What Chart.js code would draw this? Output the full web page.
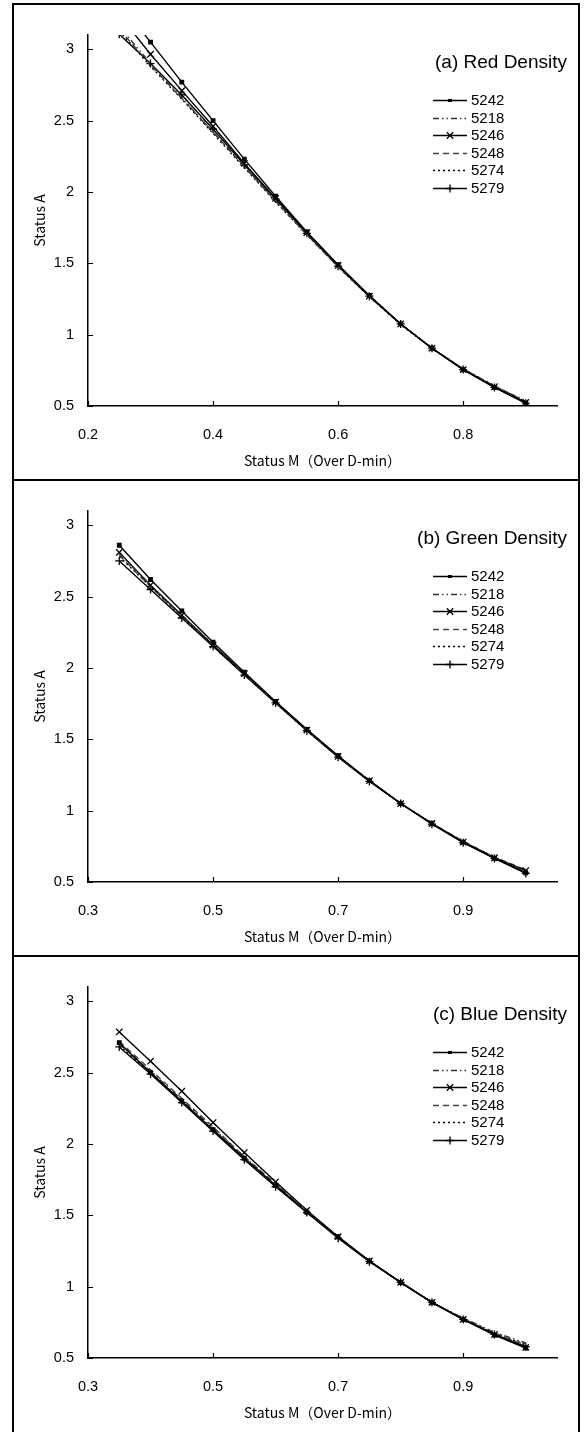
<!DOCTYPE html>
<html><head><meta charset="utf-8">
<style>
html,body{margin:0;padding:0;background:#fff;width:584px;height:1432px;overflow:hidden}
.panel{position:absolute;left:12px;width:568px;height:478px;border:2px solid #000;box-sizing:border-box;background:#fff}
.panel canvas{display:block}
</style>
<script src="https://cdn.jsdelivr.net/npm/chart.js"></script>
</head><body>
<div class="panel" style="top:3px"><canvas id="c0" width="564" height="474"></canvas></div>
<div class="panel" style="top:479px"><canvas id="c1" width="564" height="474"></canvas></div>
<div class="panel" style="top:955px;height:484px"><canvas id="c2" width="564" height="474"></canvas></div>
<script>
// ---------- data ----------
const seriesLabels = ['5242', '5218', '5246', '5248', '5274', '5279'];
const panelTitles = ['(a) Red Density', '(b) Green Density', '(c) Blue Density'];
const xTitle = 'Status M（Over D-min）';
const yTitle = 'Status A';

const xRed   = [0.25, 0.30, 0.35, 0.40, 0.45, 0.50, 0.55, 0.60, 0.65, 0.70, 0.75, 0.80, 0.85, 0.90];
const xGreen = [0.35, 0.40, 0.45, 0.50, 0.55, 0.60, 0.65, 0.70, 0.75, 0.80, 0.85, 0.90, 0.95, 1.00];
const xBlue  = [0.35, 0.40, 0.45, 0.50, 0.55, 0.60, 0.65, 0.70, 0.75, 0.80, 0.85, 0.90, 0.95, 1.00];

const red5242 = [3.33, 3.05, 2.77, 2.50, 2.23, 1.97, 1.72, 1.49, 1.275, 1.075, 0.905, 0.755, 0.63, 0.52];
const red5218 = [3.16, 2.90, 2.66, 2.42, 2.18, 1.94, 1.705, 1.48, 1.27, 1.075, 0.905, 0.76, 0.64, 0.535];
const red5246 = [3.24, 2.965, 2.71, 2.46, 2.20, 1.955, 1.715, 1.485, 1.27, 1.075, 0.905, 0.755, 0.635, 0.525];
const red5248 = [3.14, 2.89, 2.655, 2.42, 2.175, 1.935, 1.70, 1.475, 1.265, 1.075, 0.905, 0.76, 0.64, 0.53];
const red5274 = [3.13, 2.88, 2.65, 2.41, 2.17, 1.93, 1.70, 1.475, 1.265, 1.07, 0.905, 0.76, 0.64, 0.53];
const red5279 = [3.105, 2.90, 2.68, 2.44, 2.19, 1.95, 1.71, 1.48, 1.27, 1.075, 0.905, 0.755, 0.63, 0.52];

const green5242 = [2.86, 2.62, 2.40, 2.18, 1.97, 1.765, 1.57, 1.385, 1.21, 1.05, 0.91, 0.78, 0.665, 0.565];
const green5218 = [2.80, 2.58, 2.37, 2.165, 1.96, 1.76, 1.565, 1.38, 1.21, 1.05, 0.91, 0.785, 0.67, 0.575];
const green5246 = [2.81, 2.58, 2.37, 2.16, 1.96, 1.76, 1.565, 1.38, 1.21, 1.05, 0.91, 0.78, 0.67, 0.58];
const green5248 = [2.79, 2.57, 2.365, 2.16, 1.955, 1.76, 1.565, 1.38, 1.21, 1.05, 0.91, 0.785, 0.675, 0.585];
const green5274 = [2.78, 2.57, 2.36, 2.16, 1.955, 1.755, 1.56, 1.38, 1.21, 1.05, 0.91, 0.78, 0.67, 0.58];
const green5279 = [2.75, 2.55, 2.35, 2.15, 1.95, 1.755, 1.56, 1.375, 1.205, 1.05, 0.905, 0.775, 0.665, 0.56];

const blue5242 = [2.71, 2.50, 2.30, 2.10, 1.90, 1.71, 1.52, 1.35, 1.18, 1.03, 0.89, 0.77, 0.66, 0.57];
const blue5218 = [2.70, 2.51, 2.31, 2.11, 1.91, 1.72, 1.53, 1.35, 1.18, 1.03, 0.89, 0.78, 0.68, 0.605];
const blue5246 = [2.785, 2.58, 2.37, 2.15, 1.94, 1.735, 1.535, 1.35, 1.18, 1.03, 0.89, 0.77, 0.665, 0.575];
const blue5248 = [2.72, 2.52, 2.32, 2.12, 1.91, 1.72, 1.53, 1.35, 1.18, 1.03, 0.89, 0.775, 0.675, 0.59];
const blue5274 = [2.69, 2.50, 2.30, 2.10, 1.90, 1.71, 1.52, 1.345, 1.18, 1.03, 0.89, 0.775, 0.67, 0.595];
const blue5279 = [2.68, 2.49, 2.29, 2.09, 1.89, 1.70, 1.52, 1.34, 1.175, 1.03, 0.89, 0.77, 0.665, 0.58];

const xTicksRed = [0.2, 0.4, 0.6, 0.8];
const xTicksGreen = [0.3, 0.5, 0.7, 0.9];
const xTicksBlue = [0.3, 0.5, 0.7, 0.9];
const yTicks = [0.5, 1, 1.5, 2, 2.5, 3];

// ---------- styles ----------
const seriesStyles = [
  {color: '#000', dash: [], point: 'rect', r: 2.5},
  {color: '#333', dash: [6, 3, 1.5, 3, 1.5, 3], point: false, r: 0},
  {color: '#000', dash: [], point: 'crossRot', r: 4.5},
  {color: '#444', dash: [6, 4], point: false, r: 0},
  {color: '#000', dash: [2, 3], point: false, r: 0},
  {color: '#000', dash: [], point: 'cross', r: 4}
];

Chart.defaults.font.family = '"Liberation Sans", Arial, sans-serif';
Chart.defaults.color = '#000';

function drawMarker(ctx, style, r, x, y) {
  ctx.save();
  ctx.strokeStyle = '#000'; ctx.fillStyle = '#000'; ctx.lineWidth = 1.3; ctx.setLineDash([]);
  ctx.beginPath();
  if (style === 'rect') {
    ctx.fillRect(x - r * 0.8, y - r * 0.6, r * 1.6, r * 1.2);
  } else if (style === 'crossRot') {
    const d = r * Math.SQRT1_2;
    ctx.moveTo(x - d, y - d); ctx.lineTo(x + d, y + d);
    ctx.moveTo(x - d, y + d); ctx.lineTo(x + d, y - d);
    ctx.stroke();
  } else if (style === 'cross') {
    ctx.moveTo(x, y - r); ctx.lineTo(x, y + r);
    ctx.moveTo(x - r, y); ctx.lineTo(x + r, y);
    ctx.stroke();
  }
  ctx.restore();
}

const decorPlugin = {
  id: 'decor',
  afterDraw(chart, args, opts) {
    const ctx = chart.ctx;
    const a = chart.chartArea;
    const xs = chart.scales.x, ys = chart.scales.y;
    // inward tick marks
    ctx.save();
    ctx.strokeStyle = '#000'; ctx.lineWidth = 1.2;
    ctx.beginPath();
    xs.ticks.forEach(t => {
      const px = Math.round(xs.getPixelForValue(t.value)) + 0.5;
      ctx.moveTo(px, a.bottom); ctx.lineTo(px, a.bottom - 5);
    });
    ys.ticks.forEach(t => {
      const py = Math.round(ys.getPixelForValue(t.value)) + 0.5;
      ctx.moveTo(a.left, py); ctx.lineTo(a.left + 5, py);
    });
    ctx.stroke();
    ctx.restore();
    // panel title
    ctx.save();
    ctx.fillStyle = '#000';
    ctx.font = '19px "Liberation Sans", Arial, sans-serif';
    ctx.textAlign = 'right'; ctx.textBaseline = 'middle';
    ctx.fillText(opts.title, 553, 58);
    ctx.restore();
    // legend
    chart.data.datasets.forEach((ds, i) => {
      const y = Math.round(95 + i * 17.6) + 0.5;
      ctx.save();
      ctx.strokeStyle = ds.borderColor; ctx.lineWidth = ds.borderWidth;
      ctx.setLineDash(ds.borderDash || []);
      ctx.beginPath(); ctx.moveTo(419, y); ctx.lineTo(453, y); ctx.stroke();
      ctx.restore();
      if (ds.pointRadius > 0) drawMarker(ctx, ds.pointStyle, ds.pointRadius, 436, y);
      ctx.save();
      ctx.fillStyle = '#000';
      ctx.font = '15px "Liberation Sans", Arial, sans-serif';
      ctx.textAlign = 'left'; ctx.textBaseline = 'middle';
      ctx.fillText(ds.label, 457, y);
      ctx.restore();
    });
  }
};

function makeDatasets(xs, seriesValues) {
  return seriesValues.map((vals, i) => {
    const st = seriesStyles[i];
    return {
      label: seriesLabels[i],
      data: xs.map((x, j) => ({x: x, y: vals[j]})),
      borderColor: st.color,
      backgroundColor: '#000',
      borderWidth: 1.4,
      borderDash: st.dash,
      pointStyle: st.point || 'circle',
      pointRadius: st.r,
      pointHoverRadius: st.r,
      pointBorderColor: '#000',
      pointBackgroundColor: '#000',
      pointBorderWidth: 1.3,
      tension: 0,
      fill: false
    };
  });
}

function makeChart(id, title, xs, seriesValues, xTicks, xMin, xMax) {
  new Chart(document.getElementById(id), {
    type: 'line',
    data: {datasets: makeDatasets(xs, seriesValues)},
    options: {
      responsive: false,
      animation: false,
      devicePixelRatio: 1,
      layout: {padding: {top: 30, right: 21, left: 0, bottom: 0}},
      plugins: {legend: {display: false}, tooltip: {enabled: false}, decor: {title: title}},
      scales: {
        x: {
          type: 'linear', min: xMin, max: xMax,
          afterBuildTicks: s => { s.ticks = xTicks.map(v => ({value: v})); },
          afterFit: s => { s.height = 73; },
          grid: {display: false, drawTicks: false},
          border: {display: true, color: '#000', width: 1.5},
          ticks: {padding: 20, font: {size: 14.5}, color: '#000', maxRotation: 0,
                  callback: v => String(Math.round(v * 100) / 100)},
          title: {display: true, text: xTitle, color: '#000',
                  font: {family: '"Noto Sans CJK JP", sans-serif', size: 14},
                  padding: {top: 0, bottom: 10}}
        },
        y: {
          type: 'linear', min: 0.5, max: 3.1,
          afterBuildTicks: s => { s.ticks = yTicks.map(v => ({value: v})); },
          afterFit: s => { s.width = 74; },
          grid: {display: false, drawTicks: false},
          border: {display: true, color: '#000', width: 1.5},
          ticks: {padding: 14, font: {size: 14.5}, color: '#000',
                  callback: v => String(Math.round(v * 100) / 100)},
          title: {display: true, text: yTitle, color: '#000',
                  font: {family: '"Noto Sans CJK JP", sans-serif', size: 14},
                  padding: {top: 17, bottom: 0}}
        }
      }
    },
    plugins: [decorPlugin]
  });
}

makeChart('c0', panelTitles[0], xRed, [red5242, red5218, red5246, red5248, red5274, red5279], xTicksRed, 0.2, 0.95);
makeChart('c1', panelTitles[1], xGreen, [green5242, green5218, green5246, green5248, green5274, green5279], xTicksGreen, 0.3, 1.05);
makeChart('c2', panelTitles[2], xBlue, [blue5242, blue5218, blue5246, blue5248, blue5274, blue5279], xTicksBlue, 0.3, 1.05);
</script>
</body></html>
